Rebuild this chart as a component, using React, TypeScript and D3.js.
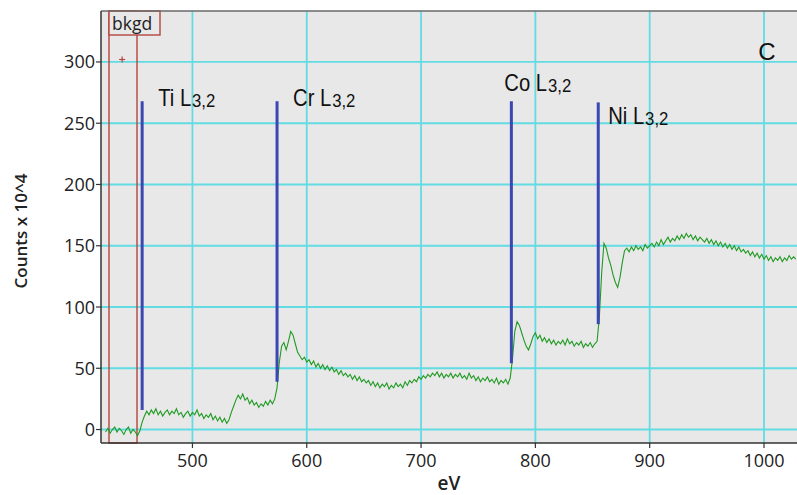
import React from "react";
import * as d3 from "d3";

// Energy axis (eV): first sample and spacing of the recorded spectrum
const energyStart = 424;
const energyStep = 2;

// Counts x 10^4, one value per energy step (row start eV in comments)
const counts = [
  -2, 1, -3, 0, 2, -2, 1, -1, -4, 0, // 424
  2, -3, 0, -2, -5, -1, 6, 11, 15, 12, // 444
  16, 13, 17, 12, 15, 11, 14, 16, 12, 15, // 464
  13, 17, 12, 14, 10, 13, 15, 11, 14, 12, // 484
  16, 11, 13, 9, 12, 10, 13, 8, 11, 7, // 504
  10, 6, 9, 5, 8, 14, 19, 24, 28, 25, // 524
  29, 24, 26, 21, 24, 20, 22, 18, 21, 19, // 544
  23, 20, 24, 21, 25, 34, 55, 68, 71, 65, // 564
  72, 80, 77, 70, 63, 60, 57, 59, 55, 57, // 584
  53, 56, 51, 54, 50, 53, 49, 52, 48, 51, // 604
  47, 49, 45, 48, 44, 46, 43, 45, 41, 44, // 624
  40, 43, 39, 41, 38, 40, 36, 39, 35, 38, // 644
  34, 37, 35, 38, 33, 36, 34, 38, 35, 37, // 664
  34, 39, 36, 40, 38, 41, 39, 43, 41, 44, // 684
  42, 45, 43, 46, 44, 47, 43, 46, 42, 45, // 704
  43, 46, 42, 45, 43, 46, 42, 44, 41, 46, // 724
  42, 44, 40, 43, 39, 42, 40, 43, 39, 41, // 744
  38, 42, 37, 40, 38, 41, 37, 42, 58, 80, // 764
  88, 85, 79, 73, 68, 65, 70, 76, 79, 74, // 784
  77, 72, 75, 71, 74, 70, 73, 69, 72, 70, // 804
  73, 69, 74, 70, 72, 68, 71, 69, 72, 67, // 824
  70, 68, 71, 67, 70, 72, 92, 128, 152, 148, // 844
  140, 134, 126, 120, 116, 124, 136, 146, 148, 145, // 864
  149, 146, 150, 147, 149, 146, 151, 148, 150, 152, // 884
  149, 153, 150, 155, 151, 154, 157, 153, 156, 154, // 904
  158, 155, 159, 156, 160, 157, 159, 155, 158, 154, // 924
  157, 155, 153, 156, 152, 155, 151, 154, 150, 153, // 944
  149, 152, 148, 151, 147, 150, 146, 149, 145, 147, // 964
  144, 146, 142, 145, 141, 144, 140, 143, 139, 142, // 984
  138, 141, 137, 140, 138, 141, 137, 140, 138, 142, // 1004
  139, 141, 139, // 1024
];

// Edge markers: element, energy (eV), top and bottom of the marker (counts)
const edgeNames = ["Ti", "Cr", "Co", "Ni"];
const edgeEnergies = [456, 574, 779, 855];
const edgeTops = [268, 268, 268, 267];
const edgeBottoms = [16, 39, 54, 86];
const edgeSub = "3,2";

const xTicks = [500, 600, 700, 800, 900, 1000];
const yTicks = [0, 50, 100, 150, 200, 250, 300];

// Background window (eV) and marker
const bkgdWindow = [427, 451.5];
const bkgdMarker = { energy: 438.5, value: 302 };

// Label placement relative to marker line (px)
const labelLayout: Record<string, { dx: number; y: number }> = {
  Ti: { dx: 16, y: 106 },
  Cr: { dx: 16, y: 106 },
  Co: { dx: -7, y: 91 },
  Ni: { dx: 10, y: 124 },
};

const W = 797;
const H = 495;
const left = 101;
const right = 796;
const top = 11;
const bottom = 443;

export default function App() {
  const x = d3.scaleLinear().domain([420, 1028]).range([left, right]);
  const y = d3.scaleLinear().domain([-11, 341.6]).range([bottom, top]);

  const data = counts.map((c, i) => ({ e: energyStart + energyStep * i, c }));
  const line = d3
    .line<{ e: number; c: number }>()
    .x((d) => x(d.e))
    .y((d) => y(d.c));

  const grid = "#62dbe3";
  const tickFont = "'Open Sans', sans-serif";
  const labelFont = "'Liberation Sans', Arial, sans-serif";
  const red = "#b4463f";

  return (
    <svg
      width={W}
      height={H}
      style={{ position: "absolute", left: 0, top: 0, background: "#fff" }}
    >
      <defs>
        <clipPath id="plot">
          <rect x={left} y={top} width={right - left} height={bottom - top} />
        </clipPath>
      </defs>
      <rect x={left} y={top} width={W - left} height={bottom - top} fill="#e8e8e8" />

      {/* grid */}
      {xTicks.map((t) => (
        <line key={"gx" + t} x1={x(t)} x2={x(t)} y1={top} y2={bottom} stroke={grid} strokeWidth={1.8} />
      ))}
      {yTicks.map((t) => (
        <line key={"gy" + t} x1={left} x2={W} y1={y(t)} y2={y(t)} stroke={grid} strokeWidth={1.8} />
      ))}

      {/* background window */}
      <rect
        x={x(bkgdWindow[0])}
        y={top}
        width={x(bkgdWindow[1]) - x(bkgdWindow[0])}
        height={bottom - top}
        fill="none"
        stroke={red}
        strokeWidth={1.4}
      />
      <rect x={x(bkgdWindow[0])} y={top} width={51} height={24} fill="#e8e8e8" stroke={red} strokeWidth={1.4} />
      <text x={x(bkgdWindow[0]) + 3} y={top + 19} fontFamily={tickFont} fontSize={17.5} fill="#222">
        bkgd
      </text>
      <g stroke={red} strokeWidth={1.2}>
        <line x1={x(bkgdMarker.energy) - 3} x2={x(bkgdMarker.energy) + 3} y1={y(bkgdMarker.value)} y2={y(bkgdMarker.value)} />
        <line x1={x(bkgdMarker.energy)} x2={x(bkgdMarker.energy)} y1={y(bkgdMarker.value) - 3} y2={y(bkgdMarker.value) + 3} />
      </g>

      {/* spectrum */}
      <path d={line(data) || ""} fill="none" stroke="#1f9a22" strokeWidth={1.1} clipPath="url(#plot)" />

      {/* edge markers */}
      {edgeNames.map((n, i) => {
        const ex = x(edgeEnergies[i]);
        const L = labelLayout[n];
        const lx = ex + L.dx;
        return (
          <g key={n}>
            <line x1={ex} x2={ex} y1={y(edgeTops[i])} y2={y(edgeBottoms[i])} stroke="#3b47b2" strokeWidth={3} />
            <text
              transform={`translate(${lx},${L.y}) scale(0.88,1)`}
              fontFamily={labelFont}
              fontSize={23}
              fill="#111"
            >
              {n + " L"}
              <tspan fontSize={19} dx={1} dy={0.5}>
                {edgeSub}
              </tspan>
            </text>
          </g>
        );
      })}

      <text x={767} y={60} textAnchor="middle" fontFamily={labelFont} fontSize={24} fill="#111">
        C
      </text>

      {/* frame and axes */}
      <line x1={left} x2={W} y1={top} y2={top} stroke="#6a6a6a" strokeWidth={1.4} />
      <line x1={left} x2={left} y1={top} y2={bottom} stroke="#333" strokeWidth={1.5} />
      <line x1={left} x2={W} y1={bottom} y2={bottom} stroke="#333" strokeWidth={1.5} />

      {yTicks.map((t) => (
        <g key={"yt" + t}>
          <line x1={left - 5} x2={left} y1={y(t)} y2={y(t)} stroke="#333" strokeWidth={1.2} />
          <text x={left - 6} y={y(t) + 6.5} textAnchor="end" fontFamily={tickFont} fontSize={18} fill="#222">
            {t}
          </text>
        </g>
      ))}
      {xTicks.map((t) => (
        <g key={"xt" + t}>
          <line x1={x(t)} x2={x(t)} y1={bottom} y2={bottom + 5} stroke="#333" strokeWidth={1.2} />
          <text x={x(t)} y={467} textAnchor="middle" fontFamily={tickFont} fontSize={18} fill="#222">
            {t}
          </text>
        </g>
      ))}

      <text x={449} y={490} textAnchor="middle" fontFamily={tickFont} fontSize={19} fontWeight={600} fill="#222">
        eV
      </text>
      <text
        transform="translate(27,231) rotate(-90)"
        textAnchor="middle"
        fontFamily={tickFont}
        fontSize={17}
        fontWeight={600}
        fill="#222"
      >
        Counts x 10^4
      </text>
    </svg>
  );
}
